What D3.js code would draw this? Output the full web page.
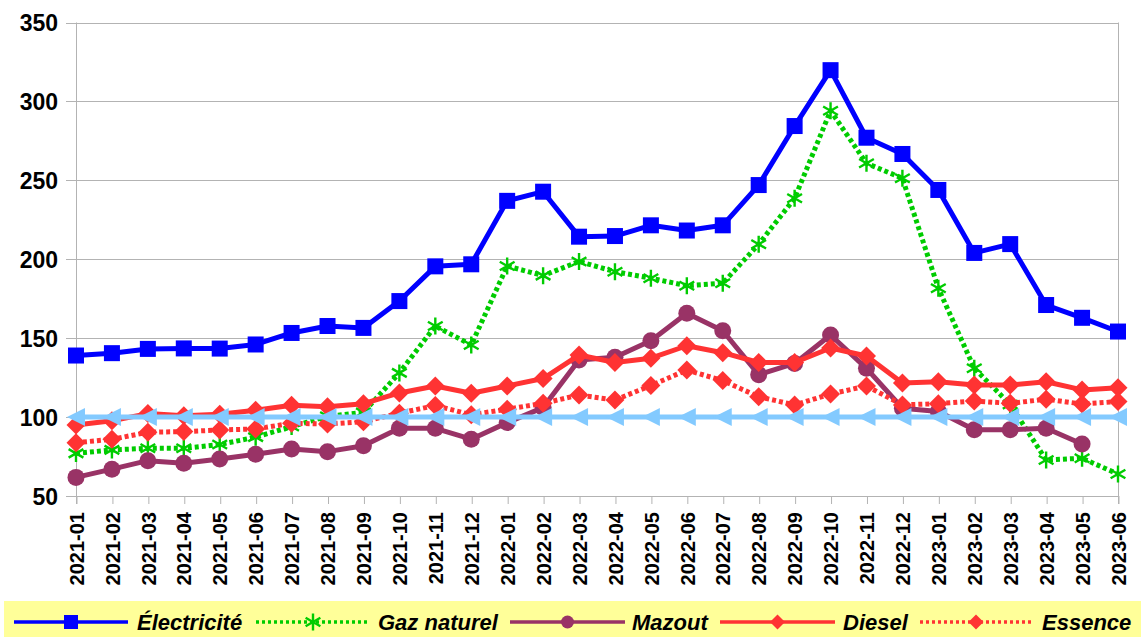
<!DOCTYPE html>
<html><head><meta charset="utf-8">
<script src="https://cdn.jsdelivr.net/npm/d3@7"></script>
<style>
html,body{margin:0;padding:0;background:#fff;}
svg{display:block;font-family:"Liberation Sans",Arial,sans-serif;}
</style></head>
<body>
<svg id="c" width="1144" height="637"></svg>
<script>
const categories = ["2021-01","2021-02","2021-03","2021-04","2021-05","2021-06","2021-07","2021-08","2021-09","2021-10","2021-11","2021-12",
"2022-01","2022-02","2022-03","2022-04","2022-05","2022-06","2022-07","2022-08","2022-09","2022-10","2022-11","2022-12",
"2023-01","2023-02","2023-03","2023-04","2023-05","2023-06"];
const electricite = [139,140.5,143.2,143.5,143.4,146,153.3,157.7,156.5,173.5,195.5,196.8,237,242.8,214.3,214.7,221.5,218.2,221.5,247,284.4,319.8,277,266.7,243.9,204,209.6,171,162.9,154.2];
const gaz = [77,79.2,80.2,80.2,82.6,87.3,94,100.5,103,128,157.7,145.7,195.7,189.6,198.6,192.1,188,183.2,184.8,209.5,238.6,294.1,260.8,251.3,181.6,130.9,108,72.8,73.9,63.9];
const mazout = [61.8,67,72.4,70.7,73.4,76.4,79.8,78.1,81.8,92.9,92.9,86,96.5,106,136.2,137.9,148.4,165.8,154.7,126.9,134,152,130.9,105.6,103.6,92,92,92.9,82.9,null];
const diesel = [95,97.7,102.2,100.9,101.8,104.3,107.5,106.6,108.5,115.3,119.7,115.1,119.7,124.4,139.3,134.6,137.3,145.2,140.8,134.6,134.6,143.8,138.7,121.6,122.4,120.4,120.3,122.4,117.2,118.6];
const essence = [83.8,85.9,90.4,90.8,91.8,92.5,96.1,95.6,97.1,102.5,107.3,101.5,105,108.7,114,110.8,120,129.8,123.1,112.9,107.7,114.6,119.7,107.7,108.5,110.2,108.7,111.3,108.3,109.8];
const reference = categories.map(() => 100);
const yTicks = [50,100,150,200,250,300,350];
const seriesNames = ["Électricité","Gaz naturel","Mazout","Diesel","Essence"];

const svg = d3.select("#c");
const x = d3.scalePoint().domain(categories).range([76,1118]);
const y = d3.scaleLinear().domain([50,350]).range([496,22.5]);

// gridlines
svg.append("g").selectAll("line").data(yTicks).join("line")
  .attr("x1",66).attr("x2",1118).attr("y1",d=>Math.round(y(d))+0.5).attr("y2",d=>Math.round(y(d))+0.5)
  .attr("stroke","#b3b3b3").attr("stroke-width",1);
// plot frame left/right
svg.append("line").attr("x1",76.5).attr("x2",76.5).attr("y1",y(350)).attr("y2",504).attr("stroke","#b3b3b3");
svg.append("line").attr("x1",1118.5).attr("x2",1118.5).attr("y1",y(350)).attr("y2",504).attr("stroke","#b3b3b3");

// y axis labels
const yAxis = d3.axisLeft(y).tickValues(yTicks).tickSize(0).tickPadding(0);
const gy = svg.append("g").attr("transform","translate(58,0)").call(yAxis);
gy.select(".domain").remove();
gy.selectAll("text").attr("font-size",23).attr("font-weight","bold").attr("fill","#000")
  .attr("font-family","'Liberation Sans',Arial,sans-serif").attr("dy","0.35em");

// x axis
const xAxis = d3.axisBottom(x).tickSize(8).tickPadding(0);
const gx = svg.append("g").attr("transform","translate(0,496)").call(xAxis);
gx.select(".domain").attr("stroke","#b3b3b3").attr("d","M66,0.5H1118");
gx.selectAll(".tick line").attr("stroke","#b3b3b3").attr("transform","translate(0.5,0)");
gx.selectAll("text").attr("font-size",20).attr("font-weight","bold").attr("fill","#000")
  .attr("font-family","'Liberation Sans',Arial,sans-serif")
  .attr("transform","translate(0,16) rotate(-90)").attr("text-anchor","end").attr("dy","0.36em").attr("x",0).attr("y",0);

const cfg = [
  {data:electricite, color:"#0000ff", dash:null, marker:"square"},
  {data:gaz, color:"#00cc00", dash:"4,3", marker:"asterisk"},
  {data:mazout, color:"#993366", dash:null, marker:"circle"},
  {data:diesel, color:"#ff3333", dash:null, marker:"diamond"},
  {data:essence, color:"#ff3333", dash:"4,3", marker:"diamond"},
  {data:reference, color:"#83caff", dash:null, marker:"triangle"}
];

function drawMarker(g, type, color, cx, cy){
  if(type==="square"){
    g.append("rect").attr("x",cx-8).attr("y",cy-8).attr("width",16).attr("height",16).attr("fill",color);
  } else if(type==="circle"){
    g.append("circle").attr("cx",cx).attr("cy",cy).attr("r",8.5).attr("fill",color);
  } else if(type==="diamond"){
    g.append("path").attr("d",`M${cx},${cy-9.5}L${cx+9.5},${cy}L${cx},${cy+9.5}L${cx-9.5},${cy}Z`).attr("fill",color);
  } else if(type==="triangle"){
    g.append("path").attr("d",`M${cx-9},${cy}L${cx+9},${cy-9}L${cx+9},${cy+9}Z`).attr("fill",color);
  } else if(type==="asterisk"){
    const r=8.5, dx=r*0.87, dy=r*0.5;
    g.append("path").attr("d",`M${cx},${cy-r}V${cy+r}M${cx-dx},${cy-dy}L${cx+dx},${cy+dy}M${cx-dx},${cy+dy}L${cx+dx},${cy-dy}`)
      .attr("stroke",color).attr("stroke-width",2.4).attr("fill","none");
  }
}

const line = d3.line().defined(d=>d.v!=null).x(d=>x(d.c)).y(d=>y(d.v));
cfg.forEach(s=>{
  const pts = categories.map((c,i)=>({c, v:s.data[i]}));
  const g = svg.append("g");
  g.append("path").datum(pts).attr("d",line).attr("fill","none").attr("stroke",s.color)
    .attr("stroke-width",5).attr("stroke-linejoin","round")
    .attr("stroke-dasharray",s.dash);
  pts.filter(p=>p.v!=null).forEach(p=>drawMarker(g,s.marker,s.color,x(p.c),y(p.v)));
});

// legend
svg.append("rect").attr("x",4).attr("y",601).attr("width",1137).attr("height",40).attr("fill","#ffff99");
const legItems = [
  {name:seriesNames[0], x1:14, x2:128, tx:137, c:cfg[0]},
  {name:seriesNames[1], x1:256, x2:370, tx:378, c:cfg[1]},
  {name:seriesNames[2], x1:510, x2:625, tx:632, c:cfg[2]},
  {name:seriesNames[3], x1:720, x2:835, tx:843, c:cfg[3]},
  {name:seriesNames[4], x1:920, x2:1032, tx:1042, c:cfg[4]}
];
const ly = 622;
legItems.forEach(it=>{
  const g = svg.append("g");
  g.append("line").attr("x1",it.x1).attr("x2",it.x2).attr("y1",ly).attr("y2",ly)
    .attr("stroke",it.c.color).attr("stroke-width",3.5).attr("stroke-dasharray",it.c.dash?"3,3":null);
  const mx=(it.x1+it.x2)/2;
  if(it.c.marker==="square") g.append("rect").attr("x",mx-7).attr("y",ly-7).attr("width",14).attr("height",14).attr("fill",it.c.color);
  else if(it.c.marker==="circle") g.append("circle").attr("cx",mx).attr("cy",ly).attr("r",6.5).attr("fill",it.c.color);
  else if(it.c.marker==="diamond") g.append("path").attr("d",`M${mx},${ly-7.5}L${mx+7.5},${ly}L${mx},${ly+7.5}L${mx-7.5},${ly}Z`).attr("fill",it.c.color);
  else drawMarker(g,"asterisk",it.c.color,mx,ly);
  g.append("text").attr("x",it.tx).attr("y",ly).attr("dy","0.36em").text(it.name)
    .attr("font-size",22).attr("font-weight","bold").attr("font-style","italic").attr("fill","#000");
});
</script>
</body></html>
